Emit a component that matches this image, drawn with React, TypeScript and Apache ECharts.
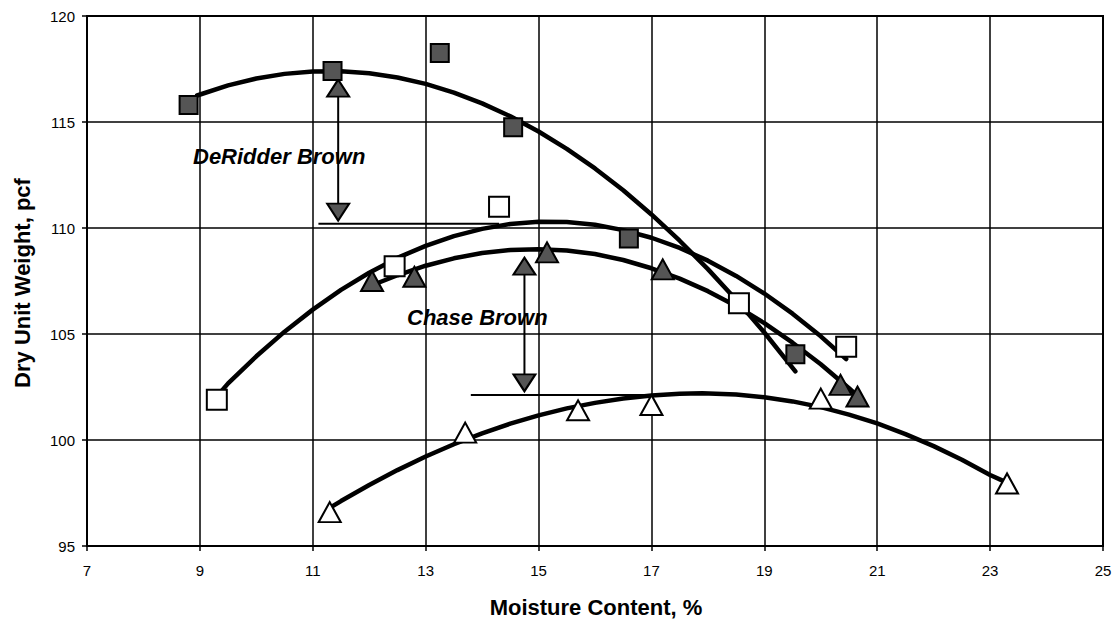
import React, { useEffect, useRef } from "react";
import * as echarts from "echarts";

// Axis ticks
const xTicks = { min: 7, max: 25, step: 2 };
const yTicks = { min: 95, max: 120, step: 5 };

// Measured compaction points: [moisture %, dry unit weight pcf]
const deridderFilled = [
  [8.8, 115.8], [11.35, 117.4], [13.25, 118.25], [14.55, 114.75], [16.6, 109.5], [19.55, 104.05],
];
const deridderOpen = [
  [9.3, 101.9], [12.45, 108.2], [14.3, 111.0], [18.55, 106.45], [20.45, 104.4],
];
const chaseFilled = [
  [12.05, 107.5], [12.8, 107.7], [15.15, 108.85], [17.2, 108.05], [20.35, 102.6], [20.65, 102.05],
];
const chaseOpen = [
  [11.3, 96.6], [13.7, 100.35], [15.7, 101.4], [17.0, 101.65], [20.0, 101.95], [23.3, 97.95],
];

// Fitted compaction curves, read every half percent of moisture
const deridderFilledCurve = [
  [8.95, 116.25], [9.5, 116.73], [10, 117.05], [10.5, 117.27], [11, 117.38], [11.5, 117.39],
  [12, 117.3], [12.5, 117.1], [13, 116.8], [13.5, 116.39], [14, 115.88], [14.5, 115.27],
  [15, 114.55], [15.5, 113.73], [16, 112.81], [16.5, 111.78], [17, 110.64], [17.5, 109.4],
  [18, 108.06], [18.5, 106.62], [19, 105.07], [19.55, 103.24],
];
const deridderOpenCurve = [
  [9.3, 102.05], [9.5, 102.67], [10, 103.95], [10.5, 105.11], [11, 106.15], [11.5, 107.08],
  [12, 107.89], [12.5, 108.59], [13, 109.16], [13.5, 109.62], [14, 109.96], [14.5, 110.19],
  [15, 110.29], [15.5, 110.28], [16, 110.15], [16.5, 109.9], [17, 109.54], [17.5, 109.06],
  [18, 108.46], [18.5, 107.74], [19, 106.91], [19.5, 105.96], [20, 104.89], [20.45, 103.82],
];
const chaseFilledCurve = [
  [12.05, 107.3], [12.5, 107.77], [13, 108.22], [13.5, 108.57], [14, 108.82], [14.5, 108.96],
  [15, 109.0], [15.5, 108.94], [16, 108.77], [16.5, 108.49], [17, 108.1], [17.5, 107.61],
  [18, 107.02], [18.5, 106.32], [19, 105.51], [19.5, 104.59], [20, 103.57], [20.5, 102.44],
  [20.7, 101.96],
];
const chaseOpenCurve = [
  [11.3, 96.8], [11.5, 97.12], [12, 97.88], [12.5, 98.58], [13, 99.22], [13.5, 99.8],
  [14, 100.31], [14.5, 100.77], [15, 101.16], [15.5, 101.49], [16, 101.75], [16.5, 101.96],
  [17, 102.1], [17.5, 102.18], [17.9, 102.2], [18.5, 102.15], [19, 102.02], [19.5, 101.82],
  [20, 101.55], [20.5, 101.2], [21, 100.78], [21.5, 100.28], [22, 99.71], [22.5, 99.07],
  [23, 98.35], [23.25, 98.05],
];

// Drop in maximum dry unit weight, shown as arrows
const deridderArrowX = 11.45;
const deridderArrowTop = 116.6;
const deridderArrowBottom = 110.75;
const deridderPeakLine = [[11.1, 110.2], [14.3, 110.2]];

const chaseArrowX = 14.75;
const chaseArrowTop = 108.2;
const chaseArrowBottom = 102.7;
const chasePeakLine = [[13.8, 102.12], [17.0, 102.12]];

const FONT = "'Liberation Sans', Arial, Helvetica, sans-serif";
const GREY = "#555555";

function curve(data: number[][], width = 4) {
  return {
    type: "line",
    data,
    smooth: false,
    showSymbol: false,
    symbol: "none",
    lineStyle: { color: "#000", width, cap: "round", join: "round" },
    z: 3,
    silent: true,
  };
}

function markers(data: number[][], symbol: string, size: any, fill: string, rotate = 0) {
  return {
    type: "scatter",
    data,
    symbol,
    symbolSize: size,
    symbolRotate: rotate,
    itemStyle: { color: fill, borderColor: "#000", borderWidth: 2, opacity: 1 },
    z: 5,
    silent: true,
  };
}

function thinLine(data: number[][], width = 2) {
  return {
    type: "line",
    data,
    showSymbol: false,
    symbol: "none",
    lineStyle: { color: "#000", width },
    z: 4,
    silent: true,
  };
}

export default function App() {
  const ref = useRef<HTMLDivElement>(null);

  useEffect(() => {
    document.body.style.margin = "0";
    if (!ref.current) return;
    const chart = echarts.init(ref.current, undefined, { renderer: "svg" });

    const axisCommon = {
      type: "value",
      axisLine: { show: true, onZero: false, lineStyle: { color: "#000", width: 2 } },
      axisTick: { show: true, inside: false, length: 5, lineStyle: { color: "#000", width: 1.5 } },
      splitLine: { show: true, lineStyle: { color: "#000", width: 1.5 } },
    };

    chart.setOption({
      animation: false,
      backgroundColor: "#fff",
      grid: {
        left: 87, right: 16, top: 16, bottom: 74,
        show: true, borderColor: "#000", borderWidth: 2,
      },
      xAxis: {
        ...axisCommon,
        min: xTicks.min, max: xTicks.max, interval: xTicks.step,
        axisLabel: { margin: 17, fontSize: 15, color: "#000", fontFamily: FONT },
      },
      yAxis: {
        ...axisCommon,
        min: yTicks.min, max: yTicks.max, interval: yTicks.step,
        axisLabel: { margin: 12, fontSize: 15, color: "#000", fontFamily: FONT },
      },
      series: [
        curve(deridderFilledCurve, 4.5),
        curve(deridderOpenCurve, 4.5),
        curve(chaseFilledCurve, 4.5),
        curve(chaseOpenCurve, 4.5),
        thinLine(deridderPeakLine, 2),
        thinLine(chasePeakLine, 2),
        thinLine([[deridderArrowX, deridderArrowTop], [deridderArrowX, deridderArrowBottom]], 2),
        thinLine([[chaseArrowX, chaseArrowTop], [chaseArrowX, chaseArrowBottom]], 2),
        markers([[deridderArrowX, deridderArrowTop], [chaseArrowX, chaseArrowTop]], "triangle", [22, 17], GREY),
        markers([[deridderArrowX, deridderArrowBottom], [chaseArrowX, chaseArrowBottom]], "triangle", [22, 17], GREY, 180),
        markers(deridderFilled, "rect", 18, GREY),
        markers(deridderOpen, "rect", 20, "#fff"),
        markers(chaseFilled, "triangle", [22, 20], GREY),
        markers(chaseOpen, "triangle", [22, 20], "#fff"),
      ],
      graphic: [
        {
          type: "text", left: 193, top: 145, z: 10,
          style: { text: "DeRidder Brown", font: `italic bold 22px ${FONT}`, fill: "#000" },
        },
        {
          type: "text", left: 407, top: 306, z: 10,
          style: { text: "Chase Brown", font: `italic bold 22px ${FONT}`, fill: "#000" },
        },
        {
          type: "text", x: 596, y: 607, z: 10,
          style: {
            text: "Moisture Content, %", font: `bold 22px ${FONT}`, fill: "#000",
            textAlign: "center", textVerticalAlign: "middle",
          },
        },
        {
          type: "text", x: 22, y: 283, rotation: Math.PI / 2, z: 10,
          style: {
            text: "Dry Unit Weight, pcf", font: `bold 22px ${FONT}`, fill: "#000",
            textAlign: "center", textVerticalAlign: "middle",
          },
        },
      ],
    });

    return () => chart.dispose();
  }, []);

  return <div ref={ref} style={{ width: 1119, height: 620 }} />;
}
